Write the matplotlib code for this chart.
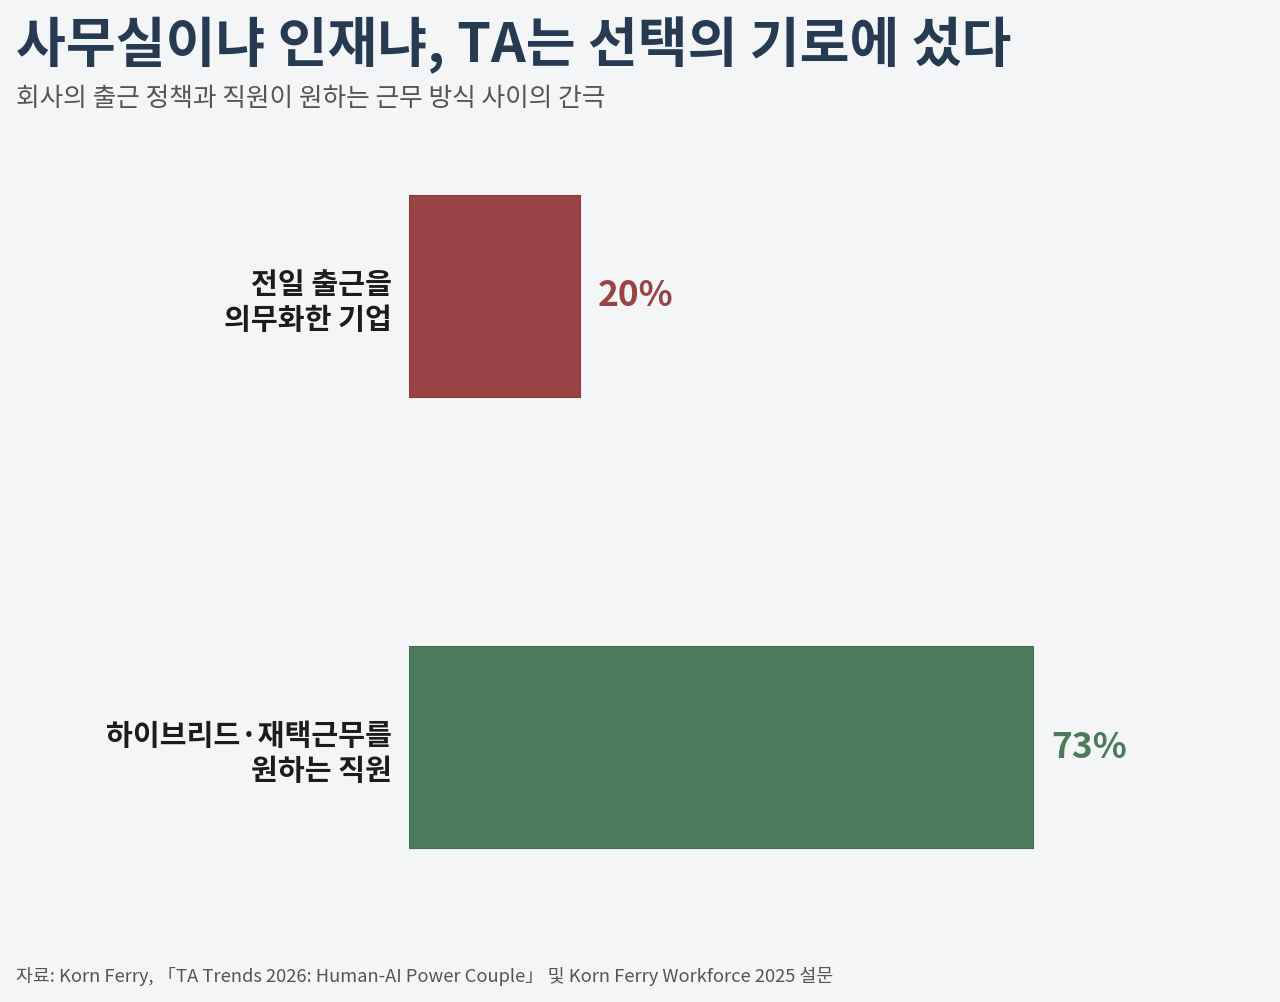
import matplotlib
matplotlib.use('Agg')
import matplotlib.pyplot as plt

plt.rcParams['font.family'] = ['Noto Sans CJK KR', 'DejaVu Sans']

BG = '#f4f5f7'

categories = ['전일 출근을\n의무화한 기업', '하이브리드·재택근무를\n원하는 직원']
values = [20, 73]
value_labels = ['20%', '73%']
colors = ['#984444', '#4b7a5c']
edge_colors = ['#8a3a3a', '#436e53']

title = '사무실이냐 인재냐, TA는 선택의 기로에 섰다'
subtitle = '회사의 출근 정책과 직원이 원하는 근무 방식 사이의 간극'
source = '자료: Korn Ferry, 「TA Trends 2026: Human-AI Power Couple」 및 Korn Ferry Workforce 2025 설문'

fig = plt.figure(figsize=(12.8, 10.02), dpi=100, facecolor=BG)
ax = fig.add_axes([409 / 1280, 29.5 / 1002, 855 / 1280, 902 / 1002])
ax.set_facecolor('none')

ypos = list(range(len(categories)))
ax.barh(ypos, values, height=0.45, color=colors, edgecolor=edge_colors, linewidth=0.8)

ax.set_xlim(0, 100)
ax.set_ylim(1.5, -0.5)
ax.axis('off')

for i, (cat, v, lab, c) in enumerate(zip(categories, values, value_labels, colors)):
    ax.annotate(cat, xy=(0, i), xytext=(-12, -4.5), textcoords='offset points',
                ha='right', va='center', fontsize=21, fontweight='bold',
                color='#1c1c1c', linespacing=1.2)
    ax.annotate(lab, xy=(v, i), xytext=(13, 0), textcoords='offset points',
                ha='left', va='center', fontsize=25.5, fontweight='bold', color=c)

fig.text(16 / 1280, 1 - 45 / 1002, title, fontsize=39, fontweight='bold',
         color='#263a52', ha='left', va='center')
fig.text(16 / 1280, 1 - 99 / 1002, subtitle, fontsize=18.5,
         color='#555555', ha='left', va='center')
fig.text(16 / 1280, 1 - 976 / 1002, source, fontsize=13.2,
         color='#555555', ha='left', va='center')

fig.savefig('out.png', dpi=100, facecolor=BG)
